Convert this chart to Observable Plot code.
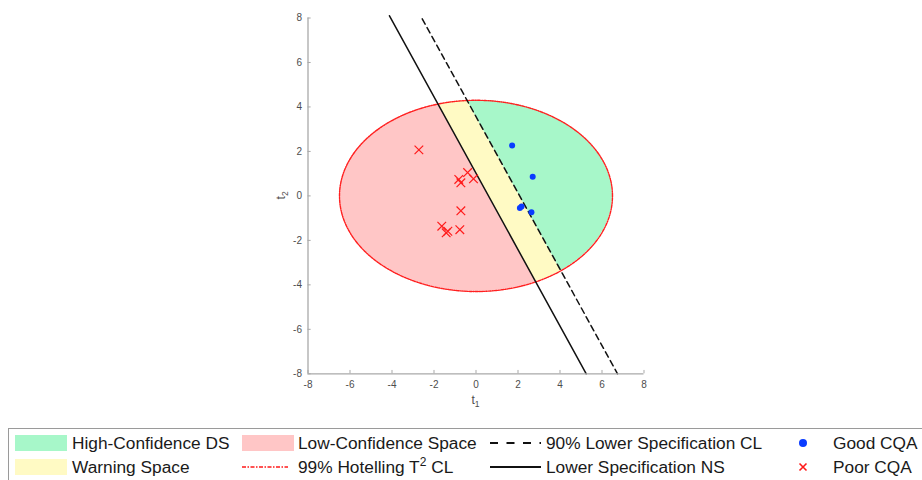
<!DOCTYPE html>
<html><head><meta charset="utf-8">
<script src="https://cdn.jsdelivr.net/npm/d3@7"></script>
<script src="https://cdn.jsdelivr.net/npm/@observablehq/plot@0.6"></script>
<style>
body{margin:0;background:#fff;font-family:"Liberation Sans",Arial,sans-serif;}
#wrap{position:relative;width:922px;height:480px;overflow:hidden;background:#fff;}
#legend{position:absolute;left:0;top:420px;}
</style></head><body><div id="wrap"></div>
<script>
// ---- data ----
const goodT1 = [1.72, 2.70, 2.09, 2.17, 2.64];
const goodT2 = [2.27, 0.86, -0.54, -0.48, -0.73];
const poorT1 = [-2.72, -0.82, -0.72, -0.40, -0.12, -0.72, -1.63, -1.42, -1.34, -0.77];
const poorT2 = [2.07, 0.74, 0.59, 1.05, 0.77, -0.67, -1.36, -1.66, -1.59, -1.52];
const nsT1 = [-4.12, 5.25];   // Lower Specification NS (solid)
const nsT2 = [8.10, -8.00];
const clT1 = [-2.56, 6.74];   // 90% Lower Specification CL (dashed)
const clT2 = [7.96, -8.00];
const hotellingRadii = [6.5, 4.3];   // 99% Hotelling T2 ellipse semi-axes (t1, t2)
const hotellingCenter = [0, 0];
const tickValues = [-8, -6, -4, -2, 0, 2, 4, 6, 8];
const legendLabels = ["High-Confidence DS", "Warning Space", "Low-Confidence Space", "99% Hotelling T² CL",
  "90% Lower Specification CL", "Lower Specification NS", "Good CQA", "Poor CQA"];

const colGreen = "#a7f7c9", colYellow = "#fffac4", colPink = "#ffc6c6";

// ---- derived geometry ----
const lineAt = (t1s, t2s) => t2 => t1s[0] + (t2 - t2s[0]) * (t1s[1] - t1s[0]) / (t2s[1] - t2s[0]);
const nsX = lineAt(nsT1, nsT2), clX = lineAt(clT1, clT2);
const [ea, eb] = hotellingRadii, [cx0, cy0] = hotellingCenter;
const N = 1200;
const rows = d3.range(N + 1).map(i => {
  const t2 = cy0 - eb + (2 * eb) * i / N;
  const w = ea * Math.sqrt(Math.max(0, 1 - ((t2 - cy0) / eb) ** 2));
  return {t2, left: cx0 - w, right: cx0 + w, ns: nsX(t2), cl: clX(t2)};
});
const pink = rows.map(r => ({t2: r.t2, x1: r.left, x2: Math.min(r.ns, r.right)})).filter(r => r.x2 > r.x1);
const yellow = rows.map(r => ({t2: r.t2, x1: Math.max(r.ns, r.left), x2: Math.min(r.cl, r.right)})).filter(r => r.x2 > r.x1);
const green = rows.map(r => ({t2: r.t2, x1: Math.max(r.cl, r.left), x2: r.right})).filter(r => r.x2 > r.x1);
const ellipse = d3.range(721).map(i => {
  const a = 2 * Math.PI * i / 720;
  return {t1: cx0 + ea * Math.cos(a), t2: cy0 + eb * Math.sin(a)};
});
const good = goodT1.map((t1, i) => ({t1, t2: goodT2[i]}));
const poor = poorT1.map((t1, i) => ({t1, t2: poorT2[i]}));
const ns = nsT1.map((t1, i) => ({t1, t2: nsT2[i]}));
const cl = clT1.map((t1, i) => ({t1, t2: clT2[i]}));

const axisCol = "#a9a9a9", tickCol = "#4d4d4d";
const plot = Plot.plot({
  width: 922, height: 425,
  marginLeft: 307.5, marginRight: 278.5, marginTop: 17.5, marginBottom: 51.7,
  style: {fontFamily: "'Liberation Sans', Arial, sans-serif", fontSize: "10px", background: "white"},
  x: {domain: [-8, 8]},
  y: {domain: [-8, 8]},
  marks: [
    Plot.areaX(pink, {y: "t2", x1: "x1", x2: "x2", fill: colPink}),
    Plot.areaX(yellow, {y: "t2", x1: "x1", x2: "x2", fill: colYellow}),
    Plot.areaX(green, {y: "t2", x1: "x1", x2: "x2", fill: colGreen}),
    Plot.line(ellipse, {x: "t1", y: "t2", stroke: "#ff2020", strokeWidth: 1.4, strokeDasharray: "3,1.2,1,1.2"}),
    Plot.line(cl, {x: "t1", y: "t2", stroke: "#111", strokeWidth: 1.5, strokeDasharray: "6,4"}),
    Plot.line(ns, {x: "t1", y: "t2", stroke: "#111", strokeWidth: 1.5}),
    Plot.dot(good, {x: "t1", y: "t2", r: 3, fill: "#0a3cff", stroke: null}),
    Plot.dot(poor, {x: "t1", y: "t2", symbol: "times", r: 4, stroke: "#ff1a1a", strokeWidth: 1.2}),
    // axis lines and inward ticks (MATLAB style)
    Plot.ruleX([-8], {y1: -8, y2: 8, stroke: axisCol, strokeWidth: 1.3}),
    Plot.ruleY([-8], {x1: -8, x2: 8, stroke: axisCol, strokeWidth: 1.3}),
    Plot.ruleX(tickValues, {x: d => d, y1: -8, y2: -7.85, stroke: axisCol}),
    Plot.ruleY(tickValues, {y: d => d, x1: -8, x2: -7.85, stroke: axisCol}),
    Plot.axisX({ticks: tickValues, tickSize: 0, tickPadding: 7, tickFormat: d => String(d), label: null, fill: tickCol}),
    Plot.axisY({ticks: tickValues, tickSize: 0, tickPadding: 6, tickFormat: d => String(d), label: null, fill: tickCol})
  ]
});
const wrap = document.getElementById("wrap");
wrap.appendChild(plot);

// axis titles with subscripts
const svgP = d3.select(plot.tagName.toLowerCase() === "svg" ? plot : plot.querySelector("svg"));
const sx = plot.scale("x"), sy = plot.scale("y");
const xl = svgP.append("text").attr("x", sx.apply(0)).attr("y", 404).attr("text-anchor", "middle")
  .attr("fill", tickCol).style("font-size", "12px");
xl.append("tspan").text("t");
xl.append("tspan").attr("dy", 3).style("font-size", "8.5px").text("1");
const yl = svgP.append("text").attr("transform", `translate(285,${sy.apply(0)}) rotate(-90)`).attr("text-anchor", "middle")
  .attr("fill", tickCol).style("font-size", "12px");
yl.append("tspan").text("t");
yl.append("tspan").attr("dy", 3).style("font-size", "8.5px").text("2");

// ---- legend ----
const lg = d3.select(wrap).append("svg").attr("id", "legend").attr("width", 922).attr("height", 60)
  .style("font-family", "'Liberation Sans', Arial, sans-serif").style("font-size", "17.3px");
lg.append("rect").attr("x", 8.5).attr("y", 8.5).attr("width", 1000).attr("height", 100)
  .attr("fill", "none").attr("stroke", "#9a9a9a");
const r1 = 23, r2 = 47;
lg.append("rect").attr("x", 15).attr("y", r1 - 8).attr("width", 52).attr("height", 16).attr("fill", colGreen);
lg.append("rect").attr("x", 15).attr("y", r2 - 8).attr("width", 52).attr("height", 16).attr("fill", colYellow);
lg.append("rect").attr("x", 242).attr("y", r1 - 8).attr("width", 52).attr("height", 16).attr("fill", colPink);
lg.append("line").attr("x1", 242).attr("x2", 288).attr("y1", r2).attr("y2", r2)
  .attr("stroke", "#ff1a1a").attr("stroke-width", 1.5).attr("stroke-dasharray", "4,1.5,1.5,1.5");
lg.append("line").attr("x1", 490).attr("x2", 541).attr("y1", r1).attr("y2", r1)
  .attr("stroke", "#111").attr("stroke-width", 1.8).attr("stroke-dasharray", "8,8.5");
lg.append("line").attr("x1", 490).attr("x2", 541).attr("y1", r2).attr("y2", r2)
  .attr("stroke", "#111").attr("stroke-width", 1.8);
lg.append("circle").attr("cx", 803).attr("cy", r1).attr("r", 4).attr("fill", "#0a3cff");
lg.append("path").attr("d", `M799.5,${r2 - 3.5}L806.5,${r2 + 3.5}M806.5,${r2 - 3.5}L799.5,${r2 + 3.5}`)
  .attr("stroke", "#ff1a1a").attr("stroke-width", 1.6);
const lpos = [[72, r1], [72, r2], [298, r1], [298, r2], [546, r1], [546, r2], [833, r1], [833, r2]];
legendLabels.forEach((lab, i) => {
  const t = lg.append("text").attr("x", lpos[i][0]).attr("y", lpos[i][1] + 6).attr("fill", "#1a1a1a");
  if (lab.includes("²")) {
    const [a, b] = lab.split("²");
    t.append("tspan").text(a);
    t.append("tspan").attr("dy", -7).style("font-size", "12px").text("2");
    t.append("tspan").attr("dy", 7).text(b);
  } else t.text(lab);
});
</script></body></html>
